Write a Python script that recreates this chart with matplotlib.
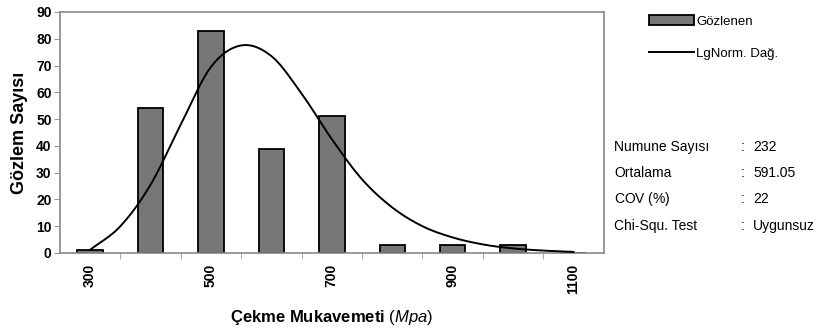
import matplotlib
matplotlib.use("Agg")
import matplotlib.pyplot as plt
import numpy as np

plt.rcParams["font.family"] = ["Liberation Sans", "DejaVu Sans"]
plt.rcParams["mathtext.fontset"] = "custom"
plt.rcParams["mathtext.rm"] = "Liberation Sans"
plt.rcParams["mathtext.it"] = "Liberation Sans:italic"
plt.rcParams["mathtext.bf"] = "Liberation Sans:bold"

# gözlenen frekanslar (sınıf orta değerleri, MPa)
siniflar = [300, 400, 500, 600, 700, 800, 900, 1000, 1100]
gozlenen = [1, 54, 83, 39, 51, 3, 3, 3, 0]
etiketler = ["300", "", "500", "", "700", "", "900", "", "1100"]

# lognormal eğri, 50 MPa aralıklarla
egri_x = [300, 350, 400, 450, 500, 550, 600, 650, 700, 750, 800, 850, 900, 950, 1000, 1050, 1100]
egri_y = [1.2, 10.0, 25.5, 48.0, 69.5, 77.5, 73.5, 59.5, 42.5, 27.5, 17.0, 10.0, 5.8, 3.2, 1.7, 0.9, 0.4]

istatistik = [
    ("Numune Sayısı", "232"),
    ("Ortalama", "591.05"),
    ("COV $\\mathit{(\\%)}$", "22"),
    ("Chi-Squ. Test", "Uygunsuz"),
]


def catmull_rom(x, y, n=20):
    # Excel tarzı yumuşatılmış çizgi
    x = np.asarray(x, float)
    y = np.asarray(y, float)
    px = np.concatenate([[2 * x[0] - x[1]], x, [2 * x[-1] - x[-2]]])
    py = np.concatenate([[2 * y[0] - y[1]], y, [2 * y[-1] - y[-2]]])
    xs, ys = [], []
    t = np.linspace(0, 1, n, endpoint=False)
    for i in range(1, len(px) - 2):
        for p, out in ((px, xs), (py, ys)):
            p0, p1, p2, p3 = p[i - 1], p[i], p[i + 1], p[i + 2]
            out.extend(0.5 * ((2 * p1) + (-p0 + p2) * t
                              + (2 * p0 - 5 * p1 + 4 * p2 - p3) * t ** 2
                              + (-p0 + 3 * p1 - 3 * p2 + p3) * t ** 3))
    xs.append(x[-1])
    ys.append(y[-1])
    return np.array(xs), np.array(ys)


fig = plt.figure(figsize=(8.17, 3.32), dpi=100)
ax = fig.add_axes([0.0734, 0.238, 0.6655, 0.726])

pos = np.arange(len(siniflar))
bars = ax.bar(pos, gozlenen, width=0.42, color="#777777", edgecolor="black",
              linewidth=1.3, label="Gözlenen", zorder=2)

cx = (np.array(egri_x) - siniflar[0]) / 100.0
sx, sy = catmull_rom(cx, egri_y)
line, = ax.plot(sx, sy, color="black", linewidth=1.4, label="LgNorm. Dağ.", zorder=3)

ax.set_xlim(-0.5, len(siniflar) - 0.5)
ax.set_ylim(0, 90)
ax.set_yticks(range(0, 91, 10))
ax.set_xticks(pos)
ax.set_xticklabels(etiketler, rotation=90, fontweight="bold", fontsize=10)
ax.set_xticks(np.arange(0.5, len(siniflar) - 0.5, 1), minor=True)
ax.tick_params(axis="x", which="major", length=0, pad=8)
ax.tick_params(axis="x", which="minor", length=4, color="#999999")
ax.tick_params(axis="y", length=4, color="#999999", labelsize=10, pad=2)
for t in ax.get_yticklabels():
    t.set_fontweight("bold")
for s in ax.spines.values():
    s.set_color("#888888")
    s.set_linewidth(1.2)

ax.set_ylabel("Gözlem Sayısı", fontsize=13, fontweight="bold", labelpad=6)
ax.set_xlabel("Çekme Mukavemeti $\\mathit{(Mpa)}$", fontsize=12, fontweight="bold", labelpad=10)

fig.legend(handles=[bars, line], loc="upper left", bbox_to_anchor=(0.78, 0.99),
           frameon=False, fontsize=9.5, handlelength=3.4, handleheight=0.8,
           handletextpad=0.15, labelspacing=1.5)

satir_y = [147, 173, 199, 226]
for (ad, deger), y in zip(istatistik, satir_y):
    fy = 1 - y / 332
    fig.text(614 / 817, fy, ad, fontsize=10, va="center")
    fig.text(741 / 817, fy, ":", fontsize=10, va="center")
    fig.text(753 / 817, fy, deger, fontsize=10, va="center")

fig.savefig("out.png", dpi=100)
